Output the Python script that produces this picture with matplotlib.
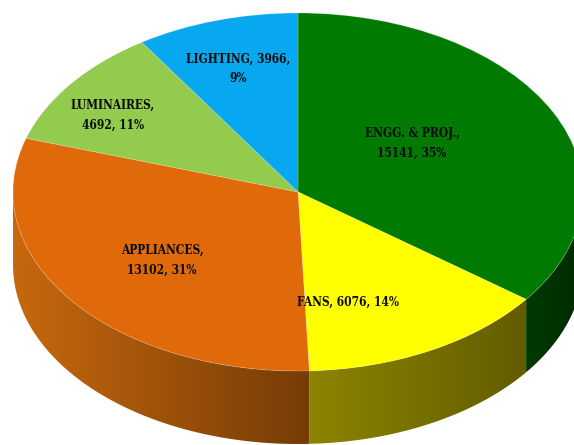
import numpy as np
import matplotlib
matplotlib.use("Agg")
import matplotlib.pyplot as plt
from matplotlib.patches import Wedge, Polygon
from matplotlib.transforms import Affine2D
from matplotlib.colors import LinearSegmentedColormap

categories = ["ENGG. & PROJ.", "FANS", "APPLIANCES", "LUMINAIRES", "LIGHTING"]
values = [15141, 6076, 13102, 4692, 3966]
percents = [35, 14, 31, 11, 9]

top_colors = ["#007A00", "#FFFF00", "#E0690A", "#92CB4E", "#08A8F0"]
# left and right shade of the rim under each slice
wall_colors = [("#003A00", "#002A00"), ("#8C8500", "#625C00"), ("#C8680E", "#763C06"), None, None]

# where each label sits and where it wraps
label_pos = [(412, 143), (348, 302), (162, 260), (113, 115), (238, 69)]
label_fmt = ["{c},\n{v}, {p}%", "{c}, {v}, {p}%", "{c},\n{v}, {p}%", "{c},\n{v}, {p}%", "{c}, {v},\n{p}%"]

cx, cy = 298, 192
rx, ry = 285, 179
depth = 73

fig = plt.figure(figsize=(5.74, 4.45), dpi=100)
ax = fig.add_axes([0, 0, 1, 1])
ax.set_xlim(0, 574)
ax.set_ylim(445, 0)
ax.axis("off")

# angles run clockwise from 12 o'clock
edges = np.concatenate([[0], np.cumsum(values)]) / np.sum(values) * 360.0

def rim(theta):
    t = np.radians(theta)
    return cx + rx * np.sin(t), cy - ry * np.cos(t)

# side wall first, only the front half of the disc is visible
for i in range(len(values)):
    if wall_colors[i] is None:
        continue
    start = max(edges[i], 90)
    stop = min(edges[i + 1], 270)
    t = np.linspace(start, stop, 120)
    x, y = rim(t)
    pts = np.vstack([np.column_stack([x, y]), np.column_stack([x[::-1], y[::-1] + depth])])
    poly = Polygon(pts, closed=True, facecolor="none", edgecolor="none", transform=ax.transData)
    ax.add_patch(poly)
    cmap = LinearSegmentedColormap.from_list("wall%d" % i, wall_colors[i])
    grad = np.linspace(0, 1, 256).reshape(1, -1)
    im = ax.imshow(grad, cmap=cmap, aspect="auto", interpolation="bilinear",
                   extent=(x.min(), x.max(), y.max() + depth, y.min()), zorder=1)
    im.set_clip_path(poly)

ax.set_xlim(0, 574)
ax.set_ylim(445, 0)

# flat top of the pie, a unit circle squashed into an ellipse
squash = Affine2D().scale(rx, -ry).translate(cx, cy) + ax.transData
for i in range(len(values)):
    w = Wedge((0, 0), 1, 90 - edges[i + 1], 90 - edges[i], facecolor=top_colors[i],
              edgecolor="#ffffff30", linewidth=0.7, transform=squash, zorder=2)
    ax.add_patch(w)

for i in range(len(values)):
    txt = label_fmt[i].format(c=categories[i], v=values[i], p=percents[i])
    ax.text(label_pos[i][0], label_pos[i][1], txt, ha="center", va="center", fontsize=8.6,
            family="DejaVu Serif", stretch="condensed", weight="bold", color="#0a0a0a",
            linespacing=1.7, zorder=3)

fig.savefig("out.png", dpi=100)
